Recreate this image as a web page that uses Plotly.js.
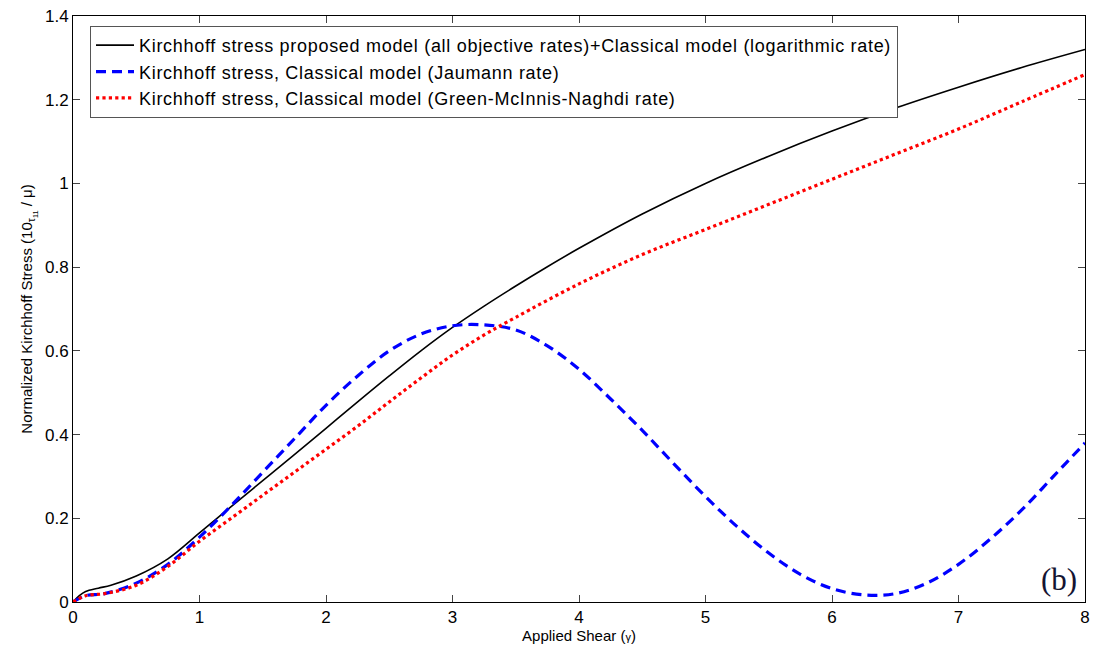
<!DOCTYPE html>
<html>
<head>
<meta charset="utf-8">
<script src="https://cdn.plot.ly/plotly-3.0.1.min.js"></script>
<style>html,body{margin:0;padding:0;background:#fff;}#chart{width:1093px;height:650px;}</style>
</head>
<body>
<div id="chart"></div>
<script>
// Proposed model (all objective rates) + classical logarithmic rate
const shearBlack = [0, 0.05, 0.1, 0.2, 0.3, 0.5, 0.75, 1, 1.25, 1.5, 1.75, 2, 2.25, 2.5, 2.75, 3, 3.25, 3.5, 3.75, 4, 4.5, 5, 5.5, 6, 6.5, 7, 7.5, 8];
const stressBlack = [0, 0.015, 0.025, 0.033, 0.04, 0.062, 0.103, 0.165, 0.228, 0.29, 0.352, 0.415, 0.478, 0.54, 0.6, 0.656, 0.707, 0.755, 0.801, 0.845, 0.927, 1.0, 1.065, 1.125, 1.18, 1.23, 1.277, 1.32];

// Jaumann rate
const shearBlue = [0, 0.1, 0.25, 0.5, 0.75, 1, 1.25, 1.5, 1.75, 2, 2.25, 2.5, 2.75, 3, 3.25, 3.5, 3.75, 4, 4.25, 4.5, 4.75, 5, 5.25, 5.5, 5.75, 6, 6.25, 6.5, 6.75, 7, 7.25, 7.5, 7.75, 8];
const stressBlue = [0, 0.015, 0.02, 0.045, 0.09, 0.155, 0.23, 0.31, 0.39, 0.47, 0.54, 0.6, 0.64, 0.66, 0.662, 0.65, 0.612, 0.556, 0.485, 0.41, 0.33, 0.252, 0.18, 0.117, 0.066, 0.032, 0.017, 0.02, 0.045, 0.09, 0.15, 0.22, 0.3, 0.38];

// Green-McInnis-Naghdi rate
const shearRed = [0, 0.1, 0.25, 0.5, 0.75, 1, 1.25, 1.5, 1.75, 2, 2.25, 2.5, 2.75, 3, 3.25, 3.5, 4, 4.5, 5, 5.5, 6, 6.5, 7, 7.5, 8];
const stressRed = [0, 0.015, 0.02, 0.04, 0.085, 0.145, 0.2, 0.255, 0.31, 0.365, 0.42, 0.478, 0.535, 0.59, 0.638, 0.68, 0.76, 0.83, 0.89, 0.95, 1.01, 1.07, 1.13, 1.195, 1.26];

const legendNames = [
  'Kirchhoff stress proposed model (all objective rates)+Classical model (logarithmic rate)',
  'Kirchhoff stress, Classical model (Jaumann rate)',
  'Kirchhoff stress, Classical model (Green-McInnis-Naghdi rate)'
];
const xTicks = [0, 1, 2, 3, 4, 5, 6, 7, 8];
const yTicks = [0, 0.2, 0.4, 0.6, 0.8, 1, 1.2, 1.4];
const yTickText = ['0', '0.2', '0.4', '0.6', '0.8', '1', '1.2', '1.4'];

const spaced = s => '<span style="letter-spacing:0.7px">' + s + '</span>';

const traces = [
  {x: shearBlack, y: stressBlack, name: spaced(legendNames[0]), mode: 'lines', line: {color: '#000000', width: 1.6, shape: 'spline'}},
  {x: shearBlue, y: stressBlue, name: spaced(legendNames[1]), mode: 'lines', line: {color: '#0000ff', width: 3.2, dash: '10px,6px', shape: 'spline'}},
  {x: shearRed, y: stressRed, name: spaced(legendNames[2]), mode: 'lines', line: {color: '#ff0000', width: 3.2, dash: 'dot', shape: 'spline'}}
];

const axisCommon = {
  showgrid: false, zeroline: false, showline: true, linecolor: '#000', linewidth: 1,
  mirror: 'ticks', ticks: 'inside', ticklen: 7, tickcolor: '#444', tickwidth: 1,
  tickfont: {family: 'Liberation Sans, Arial, sans-serif', size: 17, color: '#000'}
};

const layout = {
  width: 1093, height: 650,
  margin: {l: 73, r: 8, t: 16, b: 48},
  paper_bgcolor: '#fff', plot_bgcolor: '#fff',
  showlegend: true,
  legend: {
    x: 0.0168, y: 0.983, xanchor: 'left', yanchor: 'top',
    bgcolor: '#fff', bordercolor: '#555', borderwidth: 1,
    font: {family: 'Liberation Sans, Arial, sans-serif', size: 18, color: '#000'},
    tracegroupgap: 0, itemwidth: 38
  },
  xaxis: Object.assign({}, axisCommon, {
    range: [0, 8], tickvals: xTicks,
    title: {text: 'Applied Shear (<span style="font-size:11px">γ</span>)', font: {family: 'Liberation Sans, Arial, sans-serif', size: 15, color: '#000'}, standoff: 2}
  }),
  yaxis: Object.assign({}, axisCommon, {
    range: [0, 1.4], tickvals: yTicks, ticktext: yTickText,
    title: {text: 'Normalized Kirchhoff Stress (10<sub>τ<sub>11</sub></sub> / μ)', font: {family: 'Liberation Sans, Arial, sans-serif', size: 15, color: '#000'}, standoff: 8}
  }),
  annotations: [{
    xref: 'paper', yref: 'paper', x: 0.994, y: 0.005, xanchor: 'right', yanchor: 'bottom',
    text: '(b)', showarrow: false,
    font: {family: 'Liberation Serif, Times New Roman, serif', size: 31, color: '#141432'}
  }]
};

Plotly.newPlot('chart', traces, layout, {displayModeBar: false, responsive: false});
</script>
</body>
</html>
